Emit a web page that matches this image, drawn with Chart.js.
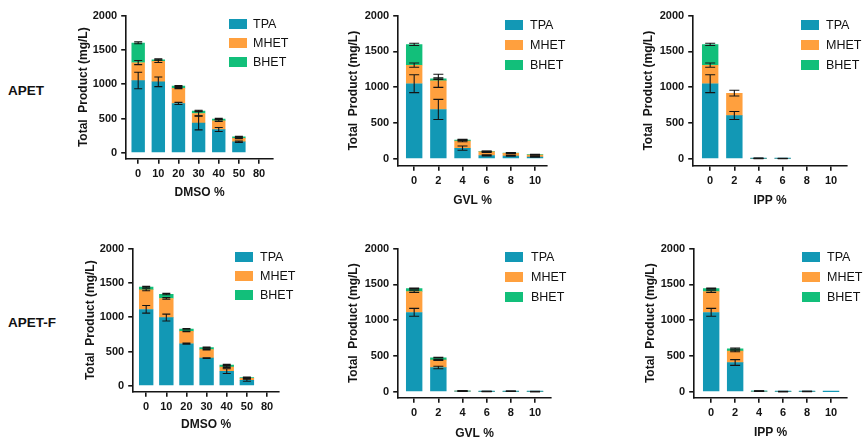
<!DOCTYPE html>
<html>
<head>
<meta charset="utf-8">
<script src="https://cdn.jsdelivr.net/npm/chart.js@4.4.1/dist/chart.umd.min.js"></script>
<style>
body { margin: 0; background: #fff; width: 863px; height: 439px; position: relative; overflow: hidden; font-family: "Liberation Sans", Arial, sans-serif; color: #111; }
canvas { position: absolute; }
.rowlab { position: absolute; font-weight: bold; font-size: 13.5px; line-height: 16px; white-space: nowrap; }
.sw { position: absolute; width: 18px; height: 10px; }
.lt { position: absolute; font-size: 12.5px; line-height: 14px; white-space: nowrap; }
</style>
</head>
<body>
<div class="rowlab" style="left:8px;top:83px">APET</div>
<div class="rowlab" style="left:8px;top:315px">APET-F</div>
<script>
// categories
const dmsoLabels = ['0', '10', '20', '30', '40', '50', '80'];
const gvlLabels = ['0', '2', '4', '6', '8', '10'];
const ippLabels = ['0', '2', '4', '6', '8', '10'];
const seriesNames = ['TPA', 'MHET', 'BHET'];
const yTicks = [0, 500, 1000, 1500, 2000];

// APET - DMSO (stack segments, mg/L) and error bars
const apetDmsoTPA = [1055, 1035, 720, 435, 340, 162, 0];
const apetDmsoMHET = [260, 300, 222, 140, 128, 50, 0];
const apetDmsoBHET = [288, 24, 33, 36, 27, 22, 0];
const apetDmsoTPAErr = [120, 70, 15, 100, 30, 10, 0];
const apetDmsoMHETErr = [30, 18, 8, 35, 12, 6, 0];
const apetDmsoBHETErr = [14, 10, 6, 10, 8, 6, 0];

// APET - GVL
const apetGvlTPA = [1050, 690, 150, 48, 42, 28];
const apetGvlMHET = [258, 400, 100, 50, 36, 28];
const apetGvlBHET = [290, 30, 14, 5, 5, 4];
const apetGvlTPAErr = [125, 140, 30, 8, 6, 5];
const apetGvlMHETErr = [30, 92, 12, 8, 6, 5];
const apetGvlBHETErr = [15, 10, 8, 4, 4, 4];

// APET - IPP
const apetIppTPA = [1050, 605, 5, 3, 0, 0];
const apetIppMHET = [258, 312, 3, 2, 0, 0];
const apetIppBHET = [290, 0, 2, 0, 0, 0];
const apetIppTPAErr = [125, 55, 2, 1, 0, 0];
const apetIppMHETErr = [30, 40, 2, 1, 0, 0];
const apetIppBHETErr = [15, 0, 0, 0, 0, 0];

// APET-F - DMSO
const apetfDmsoTPA = [1115, 995, 615, 405, 215, 82, 0];
const apetfDmsoMHET = [285, 280, 180, 125, 60, 28, 0];
const apetfDmsoBHET = [40, 62, 35, 28, 30, 12, 0];
const apetfDmsoTPAErr = [55, 50, 8, 5, 35, 15, 0];
const apetfDmsoMHETErr = [14, 12, 5, 8, 10, 5, 0];
const apetfDmsoBHETErr = [10, 10, 5, 6, 8, 5, 0];

// APET-F - GVL
const apetfGvlTPA = [1110, 340, 8, 3, 5, 3];
const apetfGvlMHET = [290, 105, 3, 2, 2, 1];
const apetfGvlBHET = [42, 32, 2, 1, 1, 1];
const apetfGvlTPAErr = [55, 18, 2, 1, 1, 1];
const apetfGvlMHETErr = [12, 6, 2, 1, 1, 1];
const apetfGvlBHETErr = [8, 5, 2, 1, 2, 1];

// APET-F - IPP
const apetfIppTPA = [1110, 410, 6, 3, 4, 1];
const apetfIppMHET = [290, 160, 3, 1, 2, 1];
const apetfIppBHET = [42, 33, 2, 1, 1, 0];
const apetfIppTPAErr = [55, 40, 2, 1, 1, 0];
const apetfIppMHETErr = [12, 10, 1, 1, 1, 0];
const apetfIppBHETErr = [8, 8, 2, 1, 1, 0];

const colors = ['#1298b5', '#ffa03e', '#12bf7a'];
const ink = '#151515';
const fontFam = '"Liberation Sans", Arial, sans-serif';

// panel placement (page pixels)
const panels = [
    { labels: dmsoLabels, title: 'DMSO %', values: [apetDmsoTPA, apetDmsoMHET, apetDmsoBHET], errs: [apetDmsoTPAErr, apetDmsoMHETErr, apetDmsoBHETErr],
      axisX: 126, yTop: 15, y0: 153, xLine: 159, axisEnd: 273, first: 138, last: 259, barW: 13, yTitleX: 83, xTitleY: 193,
      swX: 229, txtX: 253, legY: [24, 43, 62] },
    { labels: gvlLabels, title: 'GVL %', values: [apetGvlTPA, apetGvlMHET, apetGvlBHET], errs: [apetGvlTPAErr, apetGvlMHETErr, apetGvlBHETErr],
      axisX: 398, yTop: 15, y0: 159, xLine: 166, axisEnd: 547, first: 414, last: 535, barW: 16, yTitleX: 353, xTitleY: 201,
      swX: 505, txtX: 530, legY: [25, 45, 65] },
    { labels: ippLabels, title: 'IPP %', values: [apetIppTPA, apetIppMHET, apetIppBHET], errs: [apetIppTPAErr, apetIppMHETErr, apetIppBHETErr],
      axisX: 693, yTop: 15, y0: 159, xLine: 166, axisEnd: 847, first: 710, last: 831, barW: 16, yTitleX: 648, xTitleY: 201,
      swX: 801, txtX: 826, legY: [25, 45, 65] },
    { labels: dmsoLabels, title: 'DMSO %', values: [apetfDmsoTPA, apetfDmsoMHET, apetfDmsoBHET], errs: [apetfDmsoTPAErr, apetfDmsoMHETErr, apetfDmsoBHETErr],
      axisX: 133, yTop: 248, y0: 386, xLine: 392, axisEnd: 279, first: 146, last: 267, barW: 14, yTitleX: 90, xTitleY: 425,
      swX: 235, txtX: 260, legY: [257, 276, 295] },
    { labels: gvlLabels, title: 'GVL %', values: [apetfGvlTPA, apetfGvlMHET, apetfGvlBHET], errs: [apetfGvlTPAErr, apetfGvlMHETErr, apetfGvlBHETErr],
      axisX: 398, yTop: 248, y0: 392, xLine: 398, axisEnd: 551, first: 414, last: 535, barW: 16, yTitleX: 353, xTitleY: 434,
      swX: 505, txtX: 531, legY: [257, 277, 297] },
    { labels: ippLabels, title: 'IPP %', values: [apetfIppTPA, apetfIppMHET, apetfIppBHET], errs: [apetfIppTPAErr, apetfIppMHETErr, apetfIppBHETErr],
      axisX: 694, yTop: 248, y0: 392, xLine: 398, axisEnd: 847, first: 711, last: 831, barW: 16, yTitleX: 650, xTitleY: 433,
      swX: 802, txtX: 827, legY: [257, 277, 297] }
];

// error bars at the top of each stacked segment
const errorBars = {
    id: 'errorBars',
    afterDatasetsDraw(chart, args, opts) {
        const ctx = chart.ctx;
        const yScale = chart.scales.y;
        ctx.save();
        ctx.strokeStyle = ink;
        ctx.lineWidth = 1.1;
        opts.values.forEach((vals, d) => {
            const meta = chart.getDatasetMeta(d);
            vals.forEach((v, i) => {
                const e = opts.errors[d][i];
                if (!e) return;
                let top = 0;
                for (let k = 0; k <= d; k++) top += opts.values[k][i];
                const x = chart.scales.x.getPixelForValue(i);
                const y1 = yScale.getPixelForValue(top + e);
                const y2 = yScale.getPixelForValue(top - e);
                const c = opts.cap / 2;
                ctx.beginPath();
                ctx.moveTo(x, y1); ctx.lineTo(x, y2);
                ctx.moveTo(x - c, y1); ctx.lineTo(x + c, y1);
                ctx.moveTo(x - c, y2); ctx.lineTo(x + c, y2);
                ctx.stroke();
            });
        });
        ctx.restore();
    }
};

function makePanel(p, n) {
    const left = p.yTitleX - 7.2;
    const top = p.yTop - 10;
    const right = p.axisEnd + 12;
    const bottom = p.xTitleY + 7.2;
    const canvas = document.createElement('canvas');
    canvas.id = 'grafico' + n;
    canvas.style.left = left + 'px';
    canvas.style.top = top + 'px';
    canvas.style.width = (right - left) + 'px';
    canvas.style.height = (bottom - top) + 'px';
    canvas.width = right - left;
    canvas.height = bottom - top;
    document.body.appendChild(canvas);

    const count = p.labels.length;
    const ppuX = (p.last - p.first) / (count - 1);
    const ppuY = (p.y0 - p.yTop) / 2000;

    new Chart(canvas, {
        type: 'bar',
        data: {
            labels: p.labels.map((_, i) => i),
            datasets: p.values.map((vals, k) => ({
                label: seriesNames[k],
                data: vals.map(v => v === 0 ? null : v),
                backgroundColor: colors[k],
                borderWidth: 0,
                inflateAmount: 0.2,
                barThickness: p.barW
            }))
        },
        options: {
            responsive: false,
            animation: false,
            layout: { padding: { left: 0, top: 10, right: 12, bottom: 0 } },
            plugins: {
                legend: { display: false },
                tooltip: { enabled: false },
                errorBars: { values: p.values, errors: p.errs, cap: Math.round(p.barW * 0.6) }
            },
            scales: {
                x: {
                    type: 'linear',
                    stacked: true,
                    offset: false,
                    min: -(p.first - p.axisX) / ppuX,
                    max: (count - 1) + (p.axisEnd - p.last) / ppuX,
                    afterBuildTicks: s => { s.ticks = p.labels.map((_, i) => ({ value: i })); },
                    afterFit: s => { s.height = bottom - p.xLine; },
                    ticks: {
                        callback: v => p.labels[v],
                        color: ink, padding: 4, maxRotation: 0, autoSkip: false,
                        font: { family: fontFam, size: 11, weight: 'bold' }
                    },
                    grid: { offset: false, drawOnChartArea: false, color: ink, lineWidth: 1.6, tickLength: 5 },
                    border: { color: ink, width: 1.6 },
                    title: { display: true, text: p.title, color: ink, padding: 0,
                        font: { family: fontFam, size: 12, weight: 'bold' } }
                },
                y: {
                    stacked: true,
                    min: -(p.xLine - p.y0) / ppuY,
                    max: 2000,
                    afterBuildTicks: s => { s.ticks = yTicks.map(v => ({ value: v })); },
                    afterFit: s => { s.width = p.axisX - left; },
                    ticks: {
                        callback: v => String(v),
                        color: ink, padding: 4,
                        font: { family: fontFam, size: 11, weight: 'bold' }
                    },
                    grid: { drawOnChartArea: false, color: ink, lineWidth: 1.6, tickLength: 5 },
                    border: { color: ink, width: 1.6 },
                    title: { display: true, text: 'Total  Product (mg/L)', color: ink, padding: 0,
                        font: { family: fontFam, size: 12, weight: 'bold' } }
                }
            }
        },
        plugins: [errorBars]
    });

    // legend
    seriesNames.forEach((name, k) => {
        const sw = document.createElement('div');
        sw.className = 'sw';
        sw.style.left = p.swX + 'px';
        sw.style.top = (p.legY[k] - 5) + 'px';
        sw.style.background = colors[k];
        document.body.appendChild(sw);
        const t = document.createElement('div');
        t.className = 'lt';
        t.style.left = p.txtX + 'px';
        t.style.top = (p.legY[k] - 7) + 'px';
        t.textContent = name;
        document.body.appendChild(t);
    });
}

panels.forEach((p, n) => makePanel(p, n + 1));
</script>
</body>
</html>
